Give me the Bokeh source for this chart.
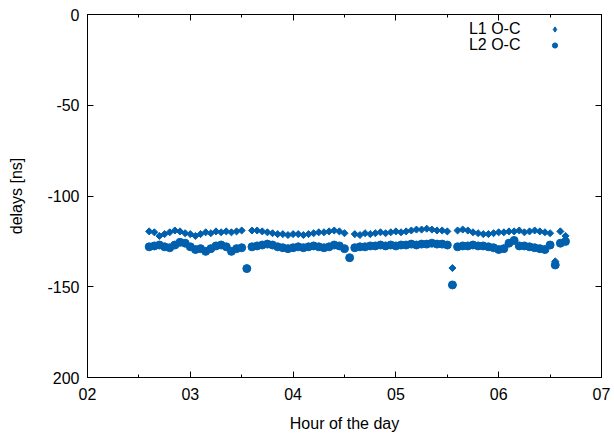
import math
from bokeh.plotting import figure
from bokeh.core.properties import value
from bokeh.models import (FixedTicker, LinearAxis, Range1d, Legend, LegendItem,
                          Label, ColumnDataSource)
from bokeh.embed import file_html
from bokeh.resources import INLINE

NaN = float("nan")

hours = [2.60, 2.65, 2.70, 2.75, 2.80, 2.85, 2.90, 2.95, 3.00, 3.05,
         3.10, 3.15, 3.20, 3.25, 3.30, 3.35, 3.40, 3.45, 3.50, 3.55,
         3.60, 3.65, 3.70, 3.75, 3.80, 3.85, 3.90, 3.95, 4.00, 4.05,
         4.10, 4.15, 4.20, 4.25, 4.30, 4.35, 4.40, 4.45, 4.50, 4.55,
         4.60, 4.65, 4.70, 4.75, 4.80, 4.85, 4.90, 4.95, 5.00, 5.05,
         5.10, 5.15, 5.20, 5.25, 5.30, 5.35, 5.40, 5.45, 5.50, 5.55,
         5.60, 5.65, 5.70, 5.75, 5.80, 5.85, 5.90, 5.95, 6.00, 6.05,
         6.10, 6.15, 6.20, 6.25, 6.30, 6.35, 6.40, 6.45, 6.50, 6.55,
         6.60, 6.65]

l1_oc = [-119.5, -120.0, -122.0, -121.0, -120.0, -119.0, -119.5, -120.5, -121.0, -122.0,
         -121.0, -120.0, -120.5, -119.5, -120.0, -119.5, -120.0, -119.5, -119.0, NaN,
         -119.0, -119.0, -119.5, -120.0, -120.5, -121.0, -121.0, -121.5, -121.0, -121.0,
         -121.5, -121.0, -120.5, -120.0, -120.0, -119.5, -119.0, -119.5, -120.5, NaN,
         -121.0, -121.5, -120.5, -121.0, -120.5, -120.0, -120.5, -120.0, -119.5, -120.0,
         -119.5, -119.0, -118.5, -118.5, -118.0, -118.5, -119.0, -119.0, -119.5, -139.7,
         -119.0, -118.5, -119.0, -120.0, -120.5, -121.0, -121.0, -120.5, -120.0, -120.0,
         -119.5, -119.5, -119.0, -120.0, -119.5, -119.0, -119.5, -120.0, -120.5, -136.0,
         -119.5, -122.0]

l2_oc = [-128.0, -127.5, -127.0, -128.0, -128.5, -127.0, -125.5, -126.0, -128.0, -129.5,
         -129.0, -130.5, -129.0, -127.5, -127.0, -128.0, -130.5, -129.0, -128.5, -140.0,
         -128.0, -127.5, -127.0, -126.5, -127.0, -128.0, -128.5, -129.0, -128.5, -128.0,
         -128.5, -128.0, -127.5, -128.0, -128.5, -128.0, -127.0, -127.5, -129.0, -134.0,
         -128.5, -128.0, -128.0, -127.5, -127.5, -127.0, -127.5, -127.0, -127.5, -127.0,
         -127.0, -126.5, -127.0, -126.5, -126.5, -126.0, -126.5, -126.5, -127.0, -149.0,
         -128.0, -127.5, -127.5, -127.0, -127.5, -127.5, -128.0, -128.5, -129.5, -129.0,
         -126.0, -124.5, -127.5, -127.5, -128.0, -128.5, -129.0, -129.5, -127.0, -138.0,
         -126.0, -125.0]

x_ticks = [2, 3, 4, 5, 6, 7]
x_minor = [2.5, 3.5, 4.5, 5.5, 6.5]
x_labels = ["02", "03", "04", "05", "06", "07"]
y_ticks = [-200, -150, -100, -50, 0]
y_labels = ["200", "-150", "-100", "-50", "0"]
series_names = ["L1 O-C", "L2 O-C"]

COLOR = "#0060ad"
FONT = "Liberation Sans"
FS = "16px"

src = ColumnDataSource(dict(hour=hours, l1=l1_oc, l2=l2_oc))

p = figure(width=612, height=434, x_range=Range1d(2, 7), y_range=Range1d(-200, 0),
           output_backend="svg", toolbar_location=None,
           min_border_left=87, min_border_right=11, min_border_top=14, min_border_bottom=54)
p.xgrid.visible = False
p.ygrid.visible = False
p.outline_line_color = "black"
p.background_fill_color = "white"
p.border_fill_color = "white"

xt = FixedTicker(ticks=x_ticks, minor_ticks=x_minor)
yt = FixedTicker(ticks=y_ticks, minor_ticks=[])


def style(ax, labels=True):
    ax.axis_line_color = "black"
    ax.major_tick_line_color = "black"
    ax.minor_tick_line_color = "black"
    ax.major_tick_in = 6
    ax.major_tick_out = 0
    ax.minor_tick_in = 3
    ax.minor_tick_out = 0
    ax.major_label_text_font = FONT
    ax.major_label_text_color = "black"
    ax.axis_label_text_font = FONT
    ax.axis_label_text_font_size = FS
    ax.axis_label_text_font_style = "normal"
    ax.axis_label_text_color = "black"
    if labels:
        ax.major_label_text_font_size = FS
    else:
        ax.major_label_text_font_size = "1px"
        ax.major_label_text_color = None
        ax.major_label_standoff = 0


xa = p.xaxis[0]
xa.ticker = xt
xa.major_label_overrides = {t: s for t, s in zip(x_ticks, x_labels)}
xa.axis_label = "Hour of the day"
style(xa)
xa.major_label_standoff = 10
xa.axis_label_standoff = 12

ya = p.yaxis[0]
ya.ticker = yt
ya.major_label_overrides = {t: s for t, s in zip(y_ticks, y_labels)}
ya.axis_label = "delays [ns]"
style(ya)
ya.minor_tick_line_color = None
ya.major_label_standoff = 8
ya.axis_label_standoff = 19

top = LinearAxis(ticker=xt)
style(top, labels=False)
p.add_layout(top, "above")
right = LinearAxis(ticker=yt)
style(right, labels=False)
right.minor_tick_line_color = None
p.add_layout(right, "right")

# L1: diamond key renderer (hidden under the rotated squares) used for the legend
k1 = p.scatter(x="hour", y="l1", source=src, marker="diamond", size=4, color=COLOR)
r1 = p.scatter(x="hour", y="l1", source=src, marker="square", angle=math.pi / 4,
               size=5, color=COLOR)
r2 = p.scatter(x="hour", y="l2", source=src, marker="circle", size=8, color=COLOR)

# legend: keys only (labels drawn as text to the left, gnuplot style)
leg = Legend(items=[LegendItem(label=value(" "), renderers=[k1]),
                    LegendItem(label=value(" "), renderers=[r2])],
             location=(461, 324), padding=0, margin=0, spacing=0,
             glyph_width=13, glyph_height=16, label_text_font_size="1px",
             label_standoff=0, label_width=1, label_height=1,
             border_line_color=None, background_fill_color=None)
p.add_layout(leg, "center")

for name, yv in zip(series_names, [-7.65, -16.4]):
    p.add_layout(Label(x=6.212, y=yv, text=name, text_align="right",
                       text_baseline="middle", text_font=FONT,
                       text_font_size=FS, text_color="black"))

open("out.html", "w").write(file_html(p, INLINE))
